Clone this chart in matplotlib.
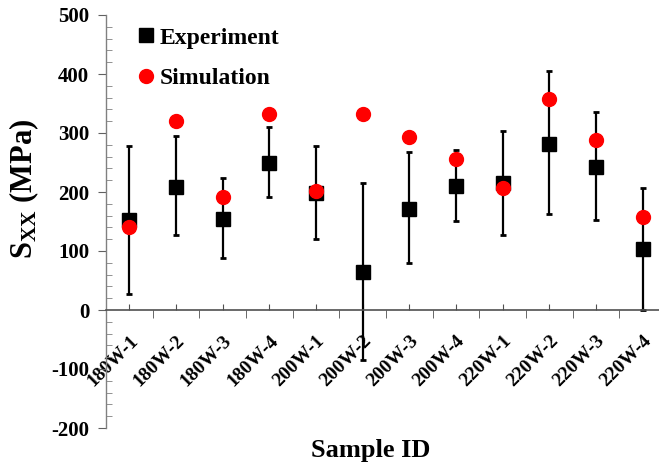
import matplotlib
matplotlib.use("Agg")
import matplotlib.pyplot as plt
import numpy as np
from matplotlib.ticker import MultipleLocator, FixedLocator

plt.rcParams['font.family'] = ['Liberation Serif', 'DejaVu Serif']
plt.rcParams['font.weight'] = 'bold'
plt.rcParams['axes.unicode_minus'] = False
plt.rcParams['mathtext.fontset'] = 'custom'
plt.rcParams['mathtext.rm'] = 'Liberation Serif:bold'
plt.rcParams['mathtext.bf'] = 'Liberation Serif:bold'
plt.rcParams['mathtext.it'] = 'Liberation Serif:bold'

samples = ['180W-1', '180W-2', '180W-3', '180W-4',
           '200W-1', '200W-2', '200W-3', '200W-4',
           '220W-1', '220W-2', '220W-3', '220W-4']
experiment = [152, 209, 155, 250, 198, 65, 172, 211, 215, 281, 243, 103]
err_low = [125, 82, 67, 59, 77, 150, 93, 60, 88, 119, 91, 103]
err_high = [126, 86, 69, 61, 80, 151, 95, 61, 89, 124, 92, 104]
simulation = [141, 321, 192, 332, 201, 333, 294, 256, 206, 358, 288, 157]

W, H = 659, 466
fig = plt.figure(figsize=(W / 100, H / 100), dpi=100)
ax = fig.add_axes([106 / W, (H - 428) / H, 560 / W, 413 / H])

x = np.arange(len(samples))
ax.errorbar(x, experiment, yerr=[err_low, err_high], fmt='none',
            ecolor='black', elinewidth=1.6, capsize=2.5, capthick=2, zorder=2)
ax.plot(x, experiment, 's', color='black', markersize=10.5, zorder=3,
        label='Experiment')
ax.plot(x, simulation, 'o', color='#ff0000', markersize=10, zorder=4,
        label='Simulation')

ax.set_xlim(-0.5, len(samples) - 0.5)
ax.set_ylim(-200, 500)

axis_color = '#505050'
for s in ('top', 'right'):
    ax.spines[s].set_visible(False)
ax.spines['bottom'].set_position(('data', 0))
ax.spines['bottom'].set_color(axis_color)
ax.spines['left'].set_color('#808080')
ax.spines['bottom'].set_linewidth(1.2)
ax.spines['left'].set_linewidth(1.0)

ax.yaxis.set_major_locator(MultipleLocator(100))
ax.yaxis.set_minor_locator(MultipleLocator(20))
ax.tick_params(axis='y', which='major', direction='out', length=6,
               color='#606060', labelsize=15, pad=6)
ax.tick_params(axis='y', which='minor', direction='in', length=4,
               color='#808080')

ax.xaxis.set_major_locator(FixedLocator(x))
ax.xaxis.set_minor_locator(FixedLocator(np.arange(len(samples) + 1) - 0.5))
ax.set_xticklabels(samples)
ax.tick_params(axis='x', which='major', direction='in', length=4,
               color=axis_color, labelsize=14, pad=16)
ax.tick_params(axis='x', which='minor', direction='out', length=6,
               color=axis_color)
for lbl in ax.get_xticklabels():
    lbl.set_rotation(45)
    lbl.set_ha('right')
    lbl.set_va('top')
    lbl.set_rotation_mode('anchor')
for lbl in ax.get_xticklabels() + ax.get_yticklabels():
    lbl.set_fontweight('bold')

leg = ax.legend(loc='upper left', bbox_to_anchor=(0.03, 1.005), frameon=False,
                fontsize=17, handletextpad=0.15, labelspacing=0.8,
                handlelength=0.8, borderaxespad=0.2)
for t in leg.get_texts():
    t.set_fontweight('bold')

fig.text(24 / W, 1 - 189 / H, r'$\mathregular{S_{XX}}$ (MPa)', rotation=90,
         ha='center', va='center', fontsize=22, fontweight='bold')
fig.text(371 / W, 1 - 450 / H, 'Sample ID', ha='center', va='center',
         fontsize=19, fontweight='bold')

fig.savefig('out.png', dpi=100)
